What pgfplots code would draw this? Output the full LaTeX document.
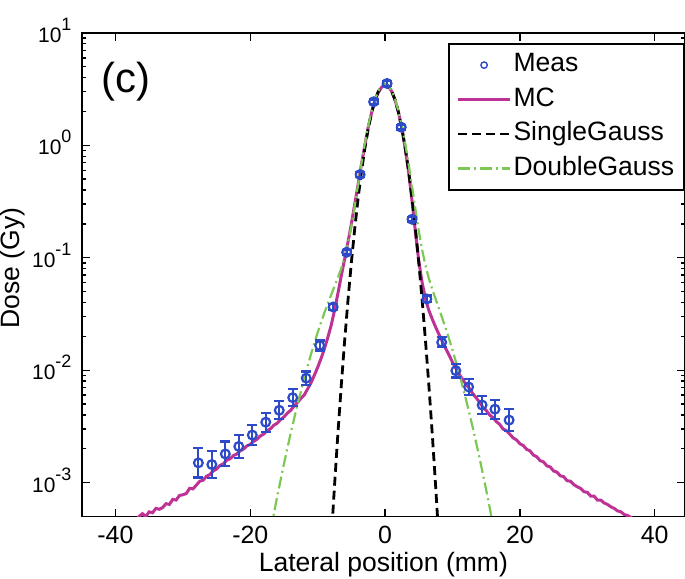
\documentclass[border=0pt]{standalone}
\usepackage{fontspec}
\setmainfont{Liberation Sans}
\usepackage{pgfplots}
\usepackage{pgfplotstable}
\pgfplotsset{compat=1.18}

\definecolor{measblue}{RGB}{45,75,200}
\definecolor{mcmag}{RGB}{190,50,150}
\definecolor{dgreen}{RGB}{125,200,85}

% decade label: 10 with a raised exponent
\newcommand{\dec}[1]{10\raisebox{6pt}{\fontsize{9}{10}\selectfont #1}}

% measured dose with asymmetric error bars (Gy)
\pgfplotstableread{
x      y        ep        em
-27.7  0.00150  0.000524  0.000388
-25.7  0.00145  0.000461  0.000350
-23.7  0.00180  0.000518  0.000403
-21.7  0.00210  0.000544  0.000432
-19.7  0.00265  0.000610  0.000496
-17.7  0.00345  0.000745  0.000613
-15.7  0.00440  0.000889  0.000740
-13.7  0.00570  0.001077  0.000904
-11.7  0.00850  0.001258  0.001097
-9.7   0.0166   0.00181   0.00163
-7.7   0.0365   0.00263   0.00243
-5.7   0.112    0.0053    0.0050
-3.7   0.55     0.026     0.025
-1.7   2.44     0.115     0.110
0.3    3.55     0.167     0.160
2.4    1.45     0.068     0.065
4.0    0.22     0.0103    0.0099
6.2    0.043    0.0031    0.0029
8.4    0.0177   0.00193   0.00174
10.5   0.0099   0.00147   0.00128
12.4   0.0071   0.00124   0.00106
14.4   0.0049   0.00099   0.00082
16.3   0.0045   0.00097   0.00080
18.4   0.0036   0.00093   0.00074
}\meas

% Monte Carlo profile
\pgfplotstableread{
x y
-37 4.6e-4
-36.5 5.0e-4
-36 5.3e-4
-35.5 5.0e-4
-35 5.5e-4
-34.5 5.4e-4
-34 5.9e-4
-33.5 5.8e-4
-33 6.0e-4
-32.5 6.5e-4
-32 6.4e-4
-31.5 7.1e-4
-31 7.0e-4
-30.5 7.7e-4
-30 7.8e-4
-29.5 8.0e-4
-29 8.9e-4
-28.5 8.8e-4
-28 9.5e-4
-27.5 1.03e-3
-27 1.05e-3
-26.5 1.14e-3
-26 1.18e-3
-25.5 1.27e-3
-25 1.32e-3
-24.5 1.42e-3
-24 1.47e-3
-23.5 1.58e-3
-23 1.63e-3
-22.5 1.74e-3
-22 1.80e-3
-21.5 1.92e-3
-21 1.99e-3
-20.5 2.12e-3
-20 2.19e-3
-19.5 2.33e-3
-19 2.43e-3
-18.5 2.60e-3
-18 2.71e-3
-17.5 2.89e-3
-17 3.02e-3
-16.5 3.24e-3
-16 3.38e-3
-15.5 3.64e-3
-15 3.84e-3
-14.5 4.15e-3
-14 4.40e-3
-13.5 4.80e-3
-13 5.15e-3
-12.5 5.6e-3
-12 6.0e-3
-11.5 6.8e-3
-11 7.7e-3
-10.5 9.0e-3
-10 0.0106
-9.5 0.0127
-9 0.0155
-8.5 0.0195
-8 0.025
-7.5 0.034
-7 0.048
-6.5 0.069
-6 0.097
-5.5 0.138
-5 0.20
-4.5 0.30
-4 0.45
-3.5 0.68
-3 1.0
-2.5 1.45
-2 1.95
-1.5 2.5
-1 2.95
-0.5 3.3
0 3.45
0.5 3.35
1 3.0
1.5 2.5
2 1.95
2.5 1.42
3 0.93
3.5 0.58
4 0.32
4.5 0.17
5 0.094
5.5 0.060
6 0.043
6.5 0.034
7 0.0285
7.5 0.0242
8 0.0208
8.5 0.0180
9 0.0156
9.5 0.0136
10 0.0118
10.5 0.0104
11 0.0092
11.5 0.0083
12 0.0075
12.5 0.0069
13 0.0062
13.5 0.0057
14 0.0052
14.5 0.0047
15 0.0044
15.5 0.0040
16 0.0038
16.5 0.0035
17 0.0033
17.5 0.0030
18 0.0029
18.5 0.0027
19 0.0025
19.5 0.0024
20 0.00222
20.5 0.00214
21 0.00198
21.5 0.00192
22 0.00176
22.5 0.00170
23 0.00157
23.5 0.00153
24 0.00141
24.5 0.00138
25 0.00127
25.5 0.00124
26 0.00115
26.5 0.00113
27 0.00104
27.5 0.00103
28 9.6e-4
28.5 9.2e-4
29 8.9e-4
29.5 8.3e-4
30 8.2e-4
30.5 7.6e-4
31 7.6e-4
31.5 7.0e-4
32 7.0e-4
32.5 6.6e-4
33 6.4e-4
33.5 6.1e-4
34 5.9e-4
34.5 5.6e-4
35 5.5e-4
35.5 5.2e-4
36 5.1e-4
36.5 4.9e-4
37 4.7e-4
}\mc

% single Gaussian fit
\pgfplotstableread{
x y
-8 0.00030
-7.5 0.00094
-7 0.00272
-6.5 0.0073
-6 0.0182
-5.5 0.0421
-5 0.0908
-4.5 0.182
-4 0.338
-3.5 0.585
-3 0.94
-2.5 1.40
-2 1.95
-1.5 2.52
-1 3.02
-0.5 3.37
0 3.5
0.5 3.37
1 3.02
1.5 2.52
2 1.95
2.5 1.40
3 0.94
3.5 0.585
4 0.338
4.5 0.182
5 0.0908
5.5 0.0421
6 0.0182
6.5 0.0073
7 0.00272
7.5 0.00094
8 0.00030
}\sgauss

% double Gaussian fit
\pgfplotstableread{
x y
-17 3.68e-4
-16.5 5.29e-4
-16 7.53e-4
-15 1.47e-3
-14 2.76e-3
-13 4.93e-3
-12 8.45e-3
-11 0.01383
-10 0.02167
-9 0.03248
-8 0.0468
-7 0.0664
-6.5 0.0805
-6 0.101
-5.5 0.1344
-5 0.191
-4.5 0.289
-4 0.448
-3.5 0.692
-3 1.039
-2.5 1.487
-2 2.014
-1.5 2.562
-1 3.044
-0.5 3.378
0 3.497
0.5 3.375
1 3.038
1.5 2.553
2 2.003
2.5 1.474
3 1.024
3.5 0.676
4 0.431
4.5 0.272
5 0.174
5.5 0.1176
6 0.0849
6.5 0.0653
7 0.0524
8 0.0353
9 0.0236
10 0.01518
11 0.00936
12 0.00551
13 0.00311
14 0.001675
15 8.64e-4
15.5 6.09e-4
16 4.26e-4
16.5 2.95e-4
}\dgauss

\begin{document}
\begin{tikzpicture}
\begin{axis}[
  scale only axis,
  width=302.5pt, height=242.5pt,
  ymode=log,
  xmin=-45, xmax=44.5, ymin=5e-4, ymax=10,
  xtick={-40,-20,0,20,40},
  ytick={1e-3,1e-2,1e-1,1,10},
  yticklabels={\dec{-3},\dec{-2},\dec{-1},\dec{0},\dec{1}},
  tick align=inside,
  major tick length=4pt, minor tick length=2pt,
  axis line style={line width=0.9pt},
  every tick/.style={black, line width=0.7pt},
  /pgf/number format/assume math mode=true,
  xticklabel style={font=\fontsize{12.5}{14}\selectfont, anchor=base, yshift=-13.5pt, inner sep=0pt},
  yticklabel style={font=\fontsize{10.5}{12}\selectfont, anchor=base east, xshift=-5pt, yshift=-4.8pt, inner sep=0pt},
  xlabel={Lateral position (mm)},
  ylabel={Dose (Gy)},
  label style={font=\fontsize{13.3}{16}\selectfont},
  xlabel style={at={(axis description cs:0.5,-0.113)}, anchor=base},
  ylabel style={at={(axis description cs:-0.103,0.514)}, anchor=base},
  legend style={at={(1,0.979)}, anchor=north east, draw=black, line width=0.8pt,
    fill=white, inner xsep=4pt, inner ysep=2pt,
    font=\fontsize{13.3}{16}\selectfont,
    nodes={inner xsep=1pt, inner ysep=2pt, text height=10pt, text depth=3.3pt},
    row sep=0pt},
  legend cell align=left,
  legend image code/.code={\draw[mark repeat=2, mark phase=2, #1]
    plot coordinates {(0pt,0pt) (13pt,0pt) (26pt,0pt)};},
]
\addlegendimage{only marks, mark=o, mark size=1.6pt, measblue, line width=0.7pt}
\addlegendentry{Meas}

\addplot[mcmag, line width=1.5pt] table[x=x, y=y] {\mc};
\addlegendentry{MC}

\addplot[black, line width=1.4pt, dash pattern=on 4.5pt off 2.5pt] table[x=x, y=y] {\sgauss};
\addlegendentry{SingleGauss}

\addplot[dgreen, line width=1.1pt, dash pattern=on 6pt off 2pt on 1pt off 2pt] table[x=x, y=y] {\dgauss};
\addlegendentry{DoubleGauss}

\addplot[forget plot, only marks, mark=o, mark size=2.2pt, measblue, line width=1.1pt,
  mark options={fill=measblue!45!white},
  error bars/.cd, y dir=both, y explicit,
  error bar style={line width=1.1pt, measblue},
  error mark options={rotate=90, mark size=2.5pt, line width=1.1pt, measblue}]
  table[x=x, y=y, y error plus=ep, y error minus=em] {\meas};

\node[anchor=base west, font=\fontsize{21}{24}\selectfont] at (rel axis cs:0.0216,0.876) {(c)};
\end{axis}
\pgfresetboundingbox
\path[use as bounding box] ([shift={(-41pt,-31pt)}]current axis.south west)
  rectangle ([shift={(0pt,16.5pt)}]current axis.north east);
\end{tikzpicture}
\end{document}
